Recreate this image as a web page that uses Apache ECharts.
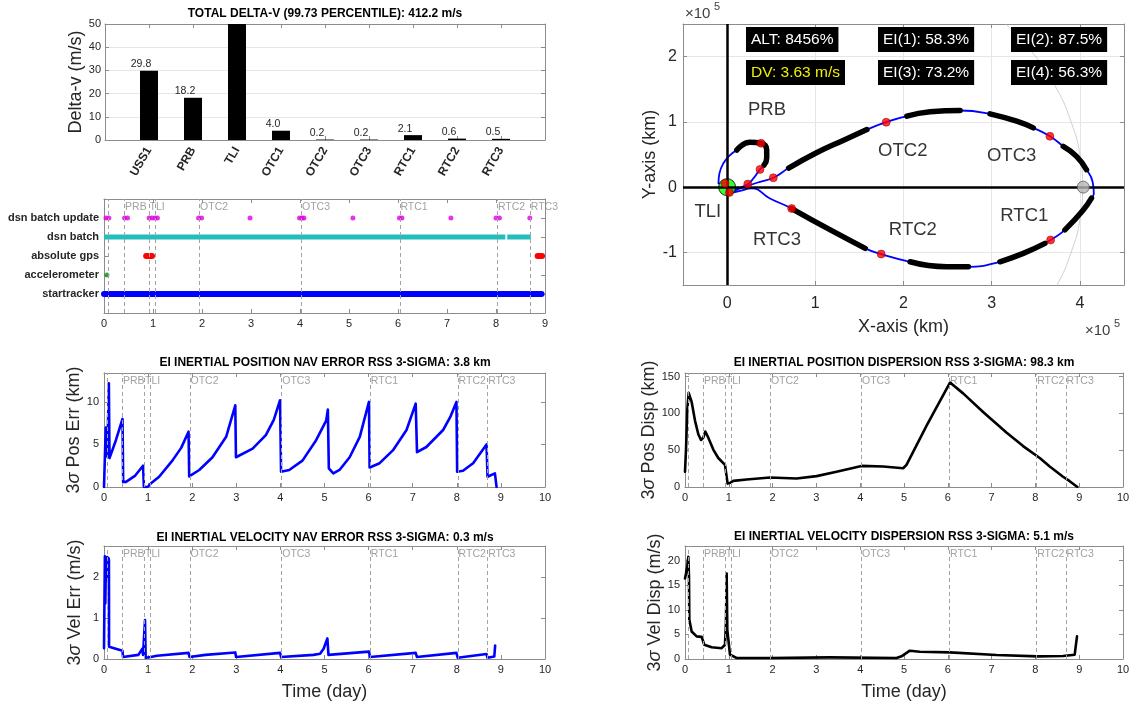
<!DOCTYPE html>
<html>
<head>
<meta charset="utf-8">
<title>Mission navigation summary</title>
<script src="https://cdn.jsdelivr.net/npm/echarts@6.0.0/dist/echarts.min.js"></script>
<style>
html, body { margin: 0; padding: 0; background: #ffffff; }
#chart { width: 1138px; height: 707px; }
</style>
</head>
<body>
<div id="chart"></div>
<script>
// ---------- Delta-v budget per maneuver (m/s) ----------
const maneuvers = ['USS1', 'PRB', 'TLI', 'OTC1', 'OTC2', 'OTC3', 'RTC1', 'RTC2', 'RTC3'];
const deltaV = [29.8, 18.2, 356.6, 4.0, 0.2, 0.2, 2.1, 0.6, 0.5];

// ---------- Mission events (day) ----------
const eventDays = [0.076, 0.42, 0.92, 1.05, 1.95, 4.03, 6.04, 8.03, 8.70];
const eventNames = ['', 'PRB', 'TLI', '', 'OTC2', 'OTC3', 'RTC1', 'RTC2', 'RTC3'];

// ---------- Sensor availability (day) ----------
const sensorNames = ['startracker', 'accelerometer', 'absolute gps', 'dsn batch', 'dsn batch update'];
const startrackerSpans = [[0, 8.93]];
const accelerometerDays = [0.06];
const gpsSpans = [[0.86, 0.98], [8.85, 8.94]];
const dsnBatchSpans = [[0, 8.19], [8.23, 8.71]];
const dsnUpdateDays = [0.04, 0.1, 0.42, 0.48, 0.92, 0.98, 1.04, 1.09, 1.93, 1.99, 2.98,
  3.99, 4.04, 4.08, 5.08, 6.03, 6.08, 7.08, 8.0, 8.07, 8.69];

// ---------- EI inertial position nav error, 3-sigma (km) ----------
const posErrDay = [0, 0.04, 0.075, 0.11, 0.125, 0.27, 0.42, 0.435, 0.5, 0.7, 0.885, 0.905, 0.99, 1.06, 1.25,
  1.55, 1.75, 1.917, 1.932, 2.16, 2.46, 2.77, 2.977, 2.992, 3.37, 3.67, 3.85, 3.992, 4.015, 4.2,
  4.5, 4.81, 5.038, 5.076, 5.098, 5.2, 5.34, 5.57, 5.8, 6.008, 6.023, 6.25, 6.55, 6.86, 7.068,
  7.098, 7.31, 7.69, 7.85, 7.992, 8.008, 8.14, 8.37, 8.674, 8.697, 8.864, 8.902];
const posErrKm = [0, 7.0, 3.6, 12.2, 3.4, 5.5, 8.0, 0.6, 0.6, 1.3, 2.5, 0, 0, 0.4, 1.2,
  3.1, 4.6, 6.5, 1.25, 2.0, 3.5, 5.9, 9.6, 3.5, 4.5, 6.1, 7.9, 10.2, 1.8, 2.0,
  3.1, 5.5, 7.8, 9.1, 2.2, 1.6, 2.0, 3.5, 5.9, 10.0, 2.3, 2.8, 4.3, 6.7, 9.8,
  4.1, 4.7, 6.7, 8.2, 10.0, 1.8, 1.9, 2.8, 5.0, 1.2, 1.6, 0];

// ---------- EI inertial velocity nav error, 3-sigma (m/s) ----------
const velErrDay = [0, 0.02, 0.03, 0.045, 0.06, 0.075, 0.09, 0.105, 0.112, 0.115, 0.42, 0.43, 0.78, 0.87, 0.885,
  0.915, 0.93, 0.945, 1.06, 1.2, 1.917, 1.94, 2.3, 2.977, 2.995, 3.992, 4.015, 4.75, 4.9, 4.98,
  5.065, 5.09, 6.008, 6.035, 7.068, 7.095, 7.992, 8.02, 8.674, 8.695, 8.85, 8.87];
const velErrMps = [0.26, 2.5, 1.35, 2.45, 2.3, 2.48, 1.9, 2.45, 2.4, 0.3, 0.2, 0.05, 0.1, 0.25, 0.1,
  0.12, 0.95, 0.03, 0.05, 0.08, 0.15, 0.05, 0.1, 0.16, 0.05, 0.15, 0.05, 0.1, 0.13, 0.25,
  0.5, 0.1, 0.18, 0.05, 0.15, 0.05, 0.15, 0.03, 0.12, 0.03, 0.06, 0.33];

// ---------- EI inertial position dispersion, 3-sigma (km) ----------
const posDispDay = [0, 0.023, 0.053, 0.084, 0.152, 0.228, 0.304, 0.365, 0.418, 0.464, 0.532, 0.646, 0.76,
  0.913, 0.951, 0.973, 1.027, 1.103, 1.407, 1.939, 2.548, 3.004, 3.46, 4.03, 4.525, 4.981, 5.057,
  5.513, 6.05, 6.35, 6.806, 7.338, 7.719, 8.099, 8.327, 8.631, 8.783, 8.958];
const posDispKm = [20.8, 50.9, 106, 128, 115.7, 90.3, 71.8, 63.9, 67.1, 75.5, 67.1, 50.9, 39.4,
  30.1, 13.9, 4.6, 5.6, 8.3, 10.2, 13.0, 11.6, 14.8, 20.8, 28.7, 27.8, 25.5, 30.1,
  83, 142, 127.3, 101.9, 74.1, 55.6, 39.4, 27.8, 13.9, 7.9, 0];

// ---------- EI inertial velocity dispersion, 3-sigma (m/s) ----------
const velDispDay = [0, 0.023, 0.053, 0.076, 0.091, 0.099, 0.152, 0.266, 0.38, 0.42, 0.44, 0.608, 0.837,
  0.913, 0.935, 0.951, 0.966, 1.027, 1.179, 1.939, 3.308, 4.829, 4.943, 5.133, 5.361, 6.046,
  6.084, 7.11, 8.06, 8.631, 8.897, 8.95];
const velDispMps = [16.4, 17.4, 19.1, 20.8, 16.8, 8.0, 5.6, 4.6, 4.5, 4.8, 2.9, 2.4, 2.2,
  2.9, 7.3, 17.4, 5.9, 0.88, 0.2, 0.2, 0.34, 0.2, 0.54, 1.69, 1.49, 1.35,
  1.0, 0.81, 0.54, 0.6, 0.88, 4.6];

// ---------- Trajectory in the Earth-Moon plane (km) ----------
const orbitX = [-2300, -9800, -8700, -4200, 3400, 11000, 26000, 38500, 44900, 44900,
  41900, 37300, 29800, 23400, 11000, 2600, 14700, 37300, 52400, 69800,
  101900, 132100, 158500, 180400, 203800, 230200, 264200, 298100, 328300, 347200,
  366000, 381100, 396200, 407500, 414300, 415800, 413200, 403800, 383000, 366800,
  360400, 335800, 309400, 273600, 249100, 207500, 174700, 156600, 117000, 73200,
  48600, 27900, 14700, 5300];
const orbitY = [5700, 5700, 21000, 36500, 49200, 56900, 68700, 67200, 56900, 44100,
  33800, 27200, 13300, 4600, -3100, -8200, -2000, 8200, 14300, 29200,
  53000, 72000, 88200, 99500, 108700, 115400, 117400, 112300, 101000, 90800,
  77900, 62600, 47200, 26700, 8700, -9200, -16900, -34900, -65600, -81000,
  -86200, -101500, -114400, -122100, -122100, -114400, -102600, -93800, -65600, -32800,
  -17400, -2000, -5700, -8800];
// tracked arcs (index ranges along the trajectory) and maneuver points
const trackedArcs = [[5, 10], [19, 22], [24, 26], [27, 29], [31, 33], [36, 38], [40, 42], [43, 45], [47, 49]];
const maneuverIdx = [0, 7, 11, 13, 15, 18, 23, 30, 39, 46, 49];
// Moon orbit (partial) and bodies (km)
const moonOrbitX = [316000, 350000, 374000, 390000, 400000, 403000, 400000, 390000, 374000, 350000];
const moonOrbitY = [250000, 200000, 150000, 100000, 50000, 0, -50000, -100000, -150000, -200000];
const earthPos = [0, 0];
const moonPos = [403800, 0];
const orbitTags = [
  ['PRB', 45300, 119000], ['TLI', -21900, -38500], ['RTC3', 56600, -81000],
  ['OTC2', 199200, 54900], ['OTC3', 322600, 47200], ['RTC2', 210600, -65600], ['RTC1', 337000, -44100]
];
const statTexts = [
  ['ALT: 8456%', '#ffffff'], ['DV: 3.63 m/s', '#f0f000'],
  ['EI(1): 58.3%', '#ffffff'], ['EI(3): 73.2%', '#ffffff'],
  ['EI(2): 87.5%', '#ffffff'], ['EI(4): 56.3%', '#ffffff']
];

// ---------- styling ----------
const FONT = '"Liberation Sans", Arial, Helvetica, sans-serif';
const INK = '#262626';
const BOX = '#8c8c8c';
const GRIDLINE = '#e6e6e6';
const EVENT = '#a3a3a3';

const grids = [
  { left: 105, top: 24, width: 440, height: 116 },   // delta-v bars
  { left: 104, top: 199, width: 441, height: 114 },  // sensor timeline
  { left: 104, top: 373, width: 441, height: 114 },  // position nav error
  { left: 104, top: 546, width: 441, height: 113 },  // velocity nav error
  { left: 683, top: 24, width: 441, height: 261 },   // trajectory
  { left: 685, top: 373, width: 438, height: 114 },  // position dispersion
  { left: 685, top: 546, width: 438, height: 113 }   // velocity dispersion
];

const xAxes = [];
const yAxes = [];

function stepLabel(step) {
  return v => (Math.abs(v / step - Math.round(v / step)) < 1e-6 ? String(+v.toFixed(6)) : '');
}

function makeAxes(dim, g, opt) {
  const axis = {
    type: 'value', gridIndex: g,
    position: dim === 'x' ? 'bottom' : 'left',
    min: opt.min, max: opt.max,
    axisLine: { show: true, onZero: false, lineStyle: { color: BOX, width: 1 } },
    axisTick: { show: true, inside: true, length: 4, lineStyle: { color: BOX, width: 1 } },
    axisLabel: Object.assign({ color: INK, fontFamily: FONT, fontSize: 11, margin: 5 }, opt.label || {}),
    splitLine: { show: !!opt.grid, lineStyle: { color: GRIDLINE, width: 1 } }
  };
  if (opt.interval != null) axis.interval = opt.interval;
  if (opt.ticks) {
    axis.axisTick.customValues = opt.ticks;
    axis.axisLabel.customValues = opt.ticks;
  }
  if (opt.name) {
    axis.name = opt.name;
    axis.nameLocation = 'middle';
    axis.nameGap = opt.nameGap;
    axis.nameTextStyle = {
      color: INK, fontFamily: FONT, fontSize: 18,
      rich: { s: { color: INK, fontFamily: FONT, fontSize: 18, fontStyle: 'italic' } }
    };
  }
  const mirror = Object.assign({}, axis, {
    position: dim === 'x' ? 'top' : 'right',
    axisLabel: { show: false },
    splitLine: { show: false },
    axisTick: Object.assign({}, axis.axisTick)
  });
  delete mirror.name;
  (dim === 'x' ? xAxes : yAxes).push(axis, mirror);
}

const dayAxis = (g, withName) => makeAxes('x', g, Object.assign(
  { min: 0, max: 10, interval: 1 },
  withName ? { name: 'Time (day)', nameGap: 24 } : {}
));

// 0: delta-v bars
makeAxes('x', 0, {
  min: 0, max: 10, interval: 1,
  label: { formatter: v => maneuvers[v - 1] || '', rotate: 60, fontWeight: 'bold', fontSize: 12, margin: 8 }
});
makeAxes('y', 0, { min: 0, max: 50, interval: 10, grid: true, label: { margin: 4 }, name: 'Delta-v (m/s)', nameGap: 20 });
// 1: sensor timeline
makeAxes('x', 1, { min: 0, max: 9, interval: 1 });
makeAxes('y', 1, {
  min: 0, max: 6, interval: 1,
  label: { formatter: v => sensorNames[v - 1] || '', fontWeight: 'bold', fontSize: 11, margin: 5 }
});
// 2: position nav error
dayAxis(2, false);
makeAxes('y', 2, { min: 0, max: 13.4, interval: 5, label: { formatter: stepLabel(5) }, name: '3{s|σ} Pos Err (km)', nameGap: 20 });
// 3: velocity nav error
dayAxis(3, true);
makeAxes('y', 3, { min: 0, max: 2.75, interval: 1, label: { formatter: stepLabel(1) }, name: '3{s|σ} Vel Err (m/s)', nameGap: 20 });
// 4: trajectory
makeAxes('x', 4, {
  min: -50000, max: 450000, ticks: [0, 100000, 200000, 300000, 400000], grid: true,
  label: { formatter: v => String(v / 100000), fontSize: 16, margin: 11 },
  name: 'X-axis (km)', nameGap: 33
});
makeAxes('y', 4, {
  min: -150000, max: 250000, ticks: [-100000, 0, 100000, 200000], grid: true,
  label: { formatter: v => String(v / 100000), fontSize: 16, margin: 6 },
  name: 'Y-axis (km)', nameGap: 19
});
// 5: position dispersion
dayAxis(5, false);
makeAxes('y', 5, { min: 0, max: 155, interval: 50, label: { formatter: stepLabel(50) }, name: '3{s|σ} Pos Disp (km)', nameGap: 17 });
// 6: velocity dispersion
dayAxis(6, true);
makeAxes('y', 6, { min: 0, max: 23, interval: 5, label: { formatter: stepLabel(5) }, name: '3{s|σ} Vel Disp (m/s)', nameGap: 17 });

// ---------- series ----------
const pairs = (xs, ys) => xs.map((x, i) => [x, ys[i]]);
const on = g => ({ xAxisIndex: 2 * g, yAxisIndex: 2 * g });

function curve(g, data, color, width, extra) {
  return Object.assign({
    type: 'line', data, showSymbol: false, symbol: 'none', silent: true,
    lineStyle: { color, width, cap: 'round', join: 'round' }, z: 3
  }, on(g), extra || {});
}

function eventLayer(g, top) {
  return Object.assign({
    type: 'scatter', silent: true, clip: false, symbolSize: 1, z: 2,
    itemStyle: { color: 'rgba(0,0,0,0)' },
    data: eventDays.map((d, i) => ({
      value: [d, top],
      label: eventNames[i] ? { formatter: eventNames[i] } : { show: false }
    })),
    label: {
      show: true, position: [1, 3], align: 'left', verticalAlign: 'top',
      color: '#8a8a8a', fontSize: 10.5, fontFamily: FONT
    },
    markLine: {
      silent: true, symbol: 'none', animation: false,
      label: { show: false },
      lineStyle: { color: EVENT, type: [4, 3], width: 1 },
      data: eventDays.map(d => ({ xAxis: d }))
    }
  }, on(g));
}

const series = [];

// delta-v bars
series.push(Object.assign({
  type: 'bar', barWidth: 18, clip: true, silent: true,
  itemStyle: { color: '#000000' },
  data: maneuvers.map((m, i) => [i + 1, deltaV[i]]),
  label: {
    show: true, position: 'top', distance: 1, offset: [-8, 0],
    color: INK, fontSize: 10.5, fontFamily: FONT,
    formatter: p => (p.value[1] <= 50 ? p.value[1].toFixed(1) : '')
  }
}, on(0)));

// sensor timeline
series.push(eventLayer(1, 6));
startrackerSpans.forEach(s => series.push(curve(1, [[s[0], 1], [s[1], 1]], '#0000ff', 6)));
gpsSpans.forEach(s => series.push(curve(1, [[s[0], 3], [s[1], 3]], '#ff0000', 6)));
dsnBatchSpans.forEach(s => series.push(curve(1, [[s[0], 4], [s[1], 4]], '#22bdbd', 5,
  { lineStyle: { color: '#22bdbd', width: 5, cap: 'butt' } })));
series.push(Object.assign({
  type: 'scatter', silent: true, symbolSize: 5, itemStyle: { color: '#1a8c1a' },
  data: accelerometerDays.map(d => [d, 2]), z: 4
}, on(1)));
series.push(Object.assign({
  type: 'scatter', silent: true, symbolSize: 5, itemStyle: { color: '#e000e0' },
  data: dsnUpdateDays.map(d => [d, 5]), z: 4
}, on(1)));

// nav errors
series.push(eventLayer(2, 13.4));
series.push(curve(2, pairs(posErrDay, posErrKm), '#0000ff', 2.6));
series.push(eventLayer(3, 2.75));
series.push(curve(3, pairs(velErrDay, velErrMps), '#0000ff', 2.6));

// dispersions
series.push(eventLayer(5, 155));
series.push(curve(5, pairs(posDispDay, posDispKm), '#000000', 2.6));
series.push(eventLayer(6, 23));
series.push(curve(6, pairs(velDispDay, velDispMps), '#000000', 2.6));

// trajectory plot
series.push(curve(4, pairs(moonOrbitX, moonOrbitY), '#c4c4c4', 0.8, {
  smooth: true, z: 1,
  markLine: {
    silent: true, symbol: 'none', animation: false, label: { show: false },
    lineStyle: { color: '#000000', width: 2.5, type: 'solid' },
    data: [{ xAxis: 0 }, { yAxis: 0 }]
  }
}));
const trajectory = pairs(orbitX, orbitY);
series.push(curve(4, trajectory, '#0000ff', 1.8, { smooth: 0.5, z: 3 }));
trackedArcs.forEach(r => series.push(curve(4, trajectory.slice(r[0], r[1] + 1), '#000000', 5.5, { smooth: 0.5, z: 4 })));
series.push(Object.assign({
  type: 'scatter', silent: true, symbolSize: 8, z: 5,
  itemStyle: { color: '#ff0000', borderColor: '#7a0000', borderWidth: 0.6 },
  data: maneuverIdx.map(i => trajectory[i])
}, on(4)));
series.push(Object.assign({
  type: 'scatter', silent: true, symbolSize: 17, z: 4,
  itemStyle: { color: '#00ff00', borderColor: '#000000', borderWidth: 1 },
  data: [earthPos]
}, on(4)));
series.push(Object.assign({
  type: 'scatter', silent: true, symbolSize: 12, z: 5,
  itemStyle: { color: '#b5b5b5', borderColor: '#5a5a5a', borderWidth: 1 },
  data: [moonPos]
}, on(4)));
series.push(Object.assign({
  type: 'scatter', silent: true, symbolSize: 1, z: 6,
  itemStyle: { color: 'rgba(0,0,0,0)' },
  data: orbitTags.map(t => ({ value: [t[1], t[2]], label: { formatter: t[0] } })),
  label: { show: true, position: 'inside', color: '#000000', fontSize: 18.5, fontFamily: FONT }
}, on(4)));

// ---------- titles ----------
const titleStyle = { fontFamily: FONT, fontSize: 12, fontWeight: 'bold', color: '#000000' };
const titles = [
  ['TOTAL DELTA-V (99.73 PERCENTILE): 412.2 m/s', 325, 8],
  ['EI INERTIAL POSITION NAV ERROR RSS 3-SIGMA: 3.8 km', 325, 357],
  ['EI INERTIAL VELOCITY NAV ERROR RSS 3-SIGMA: 0.3 m/s', 325, 532],
  ['EI INERTIAL POSITION DISPERSION RSS 3-SIGMA: 98.3 km', 904, 357],
  ['EI INERTIAL VELOCITY DISPERSION RSS 3-SIGMA: 5.1 m/s', 904, 531]
].map(t => ({ text: t[0], left: t[1], top: t[2], textAlign: 'center', padding: 0, textStyle: titleStyle }));

// ---------- annotation boxes and axis exponents ----------
const boxSlots = [[746, 27], [746, 60], [878, 27], [878, 60], [1011, 27], [1011, 60]];
const graphics = statTexts.map((s, i) => ({
  type: 'text', x: boxSlots[i][0], y: boxSlots[i][1], silent: true, z: 100,
  style: {
    text: s[0], fill: s[1], font: '15.5px ' + FONT,
    backgroundColor: '#000000', padding: [5, 5, 4, 5],
    align: 'left', verticalAlign: 'top', textAlign: 'left', textVerticalAlign: 'top'
  }
}));
[[685, 6], [1085, 323]].forEach(p => {
  graphics.push({
    type: 'text', x: p[0], y: p[1], silent: true,
    style: { text: '×10', fill: '#404040', font: '15px ' + FONT, align: 'left', verticalAlign: 'top', textAlign: 'left', textVerticalAlign: 'top' }
  });
  graphics.push({
    type: 'text', x: p[0] + 29, y: p[1] - 5, silent: true,
    style: { text: '5', fill: '#404040', font: '11px ' + FONT, align: 'left', verticalAlign: 'top', textAlign: 'left', textVerticalAlign: 'top' }
  });
});

const chart = echarts.init(document.getElementById('chart'), null, { renderer: 'canvas' });
chart.setOption({
  backgroundColor: '#ffffff',
  animation: false,
  textStyle: { fontFamily: FONT },
  title: titles,
  grid: grids,
  xAxis: xAxes,
  yAxis: yAxes,
  series: series,
  graphic: graphics
});
</script>
</body>
</html>
